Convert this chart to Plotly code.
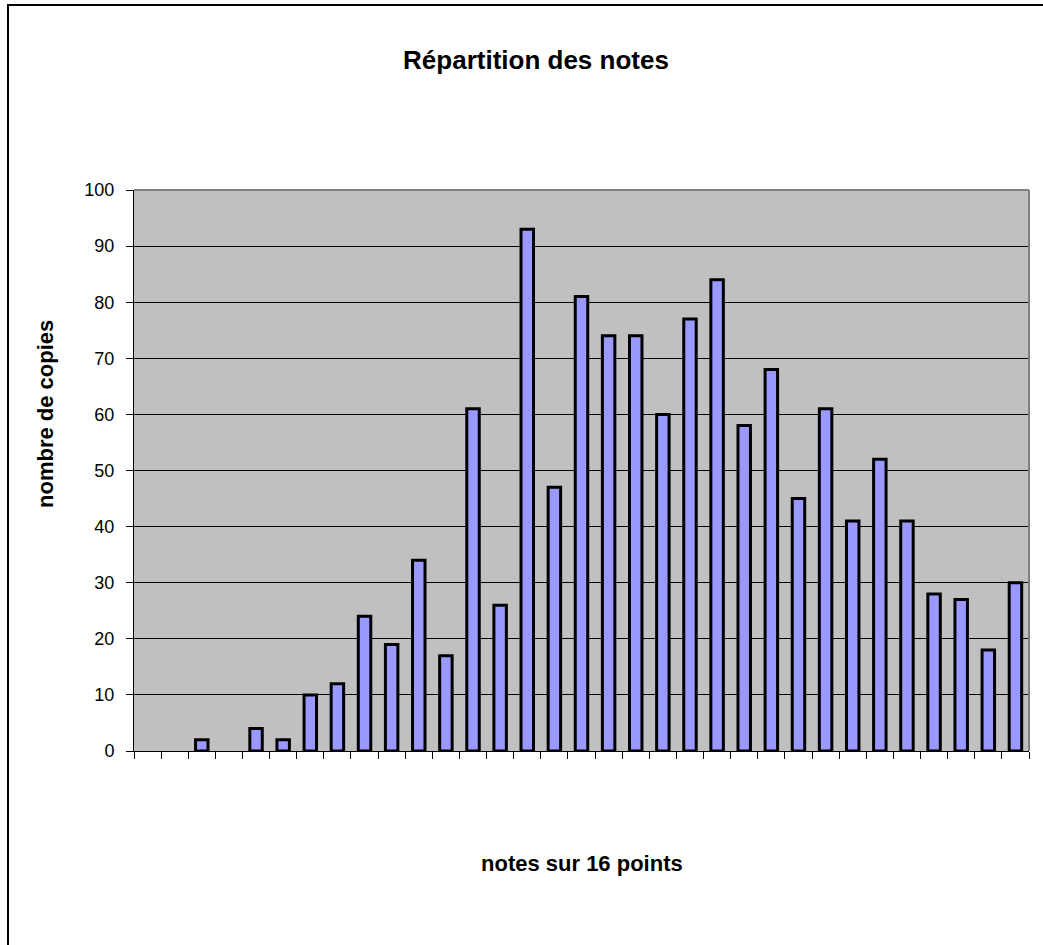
import plotly.graph_objects as go

notes = [f"{i/2:g}" for i in range(33)]
copies = [0, 0, 2, 0, 4, 2, 10, 12, 24, 19, 34, 17, 61, 26, 93, 47, 81, 74, 74,
          60, 77, 84, 58, 68, 45, 61, 41, 52, 41, 28, 27, 18, 30]
y_ticks = list(range(0, 101, 10))

W, H = 1043, 945
L, R, T, B = 134, 1029, 190, 751
FONT = "Arial, 'Liberation Sans', sans-serif"

fig = go.Figure(go.Bar(
    x=notes, y=copies,
    width=0.46,
    marker=dict(color="#9999FF",
                line=dict(color="black", width=[3 if v else 0 for v in copies])),
))

pw, ph = R - L, B - T

fig.update_layout(
    width=W, height=H,
    margin=dict(l=L, r=W - R, t=T, b=H - B),
    paper_bgcolor="white",
    plot_bgcolor="#C0C0C0",
    showlegend=False,
    bargap=0.54,
    title=dict(text="<b>Répartition des notes</b>", x=536 / W, xanchor="center",
               y=1 - 60 / H, yanchor="middle", yref="container",
               font=dict(family=FONT, size=26, color="black")),
    xaxis=dict(type="category", showticklabels=False, ticks="outside", ticklen=7,
               tickcolor="black", tickwidth=1, tickson="boundaries",
               showline=True, linecolor="black", linewidth=1, showgrid=False,
               zeroline=False),
    yaxis=dict(range=[0, 100], tickvals=y_ticks, ticks="outside", ticklen=7,
               tickcolor="black", tickwidth=1, showline=True, linecolor="black",
               linewidth=1, showgrid=True, gridcolor="black", gridwidth=1,
               zeroline=False, ticklabelstandoff=8,
               tickfont=dict(family=FONT, size=18, color="black")),
    shapes=[
        dict(type="line", xref="paper", yref="paper", x0=0, x1=1, y0=1, y1=1,
             line=dict(color="#808080", width=2)),
        dict(type="line", xref="paper", yref="paper", x0=1, x1=1, y0=0, y1=1,
             line=dict(color="#808080", width=2)),
        dict(type="rect", xref="paper", yref="paper",
             x0=(8 - L) / pw, x1=(W + 20 - L) / pw,
             y0=(B - (H + 20)) / ph, y1=(B - 5) / ph,
             line=dict(color="black", width=2), fillcolor="rgba(0,0,0,0)",
             layer="below"),
    ],
    annotations=[
        dict(text="<b>notes sur 16 points</b>", xref="paper", yref="paper",
             x=(582 - L) / pw, y=(B - 863) / ph, xanchor="center", yanchor="middle",
             showarrow=False, font=dict(family=FONT, size=22, color="black")),
        dict(text="<b>nombre de copies</b>", xref="paper", yref="paper",
             x=(45 - L) / pw, y=(B - 414) / ph, xanchor="center", yanchor="middle",
             textangle=-90, showarrow=False,
             font=dict(family=FONT, size=22, color="black")),
    ],
)

fig.write_html("out.html", config={"displayModeBar": False},
               post_script="document.body.style.margin='0';document.body.style.overflow='hidden';")
